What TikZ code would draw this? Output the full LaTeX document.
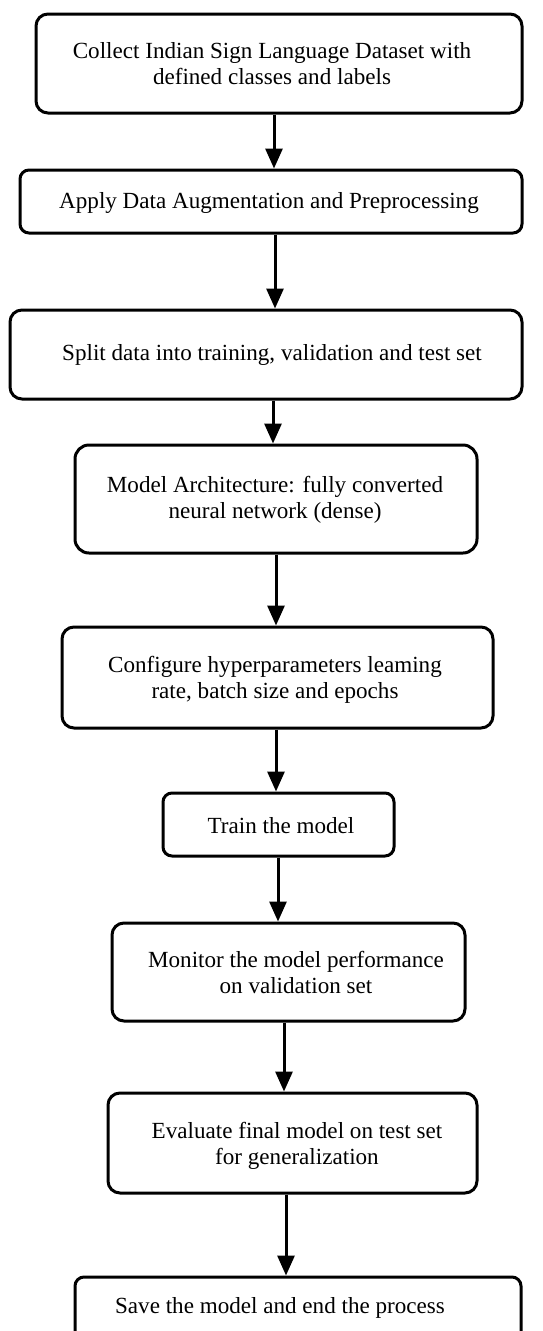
\documentclass[tikz,border=0pt]{standalone}
\usepackage{fontspec}
\setmainfont{Liberation Serif}
\usetikzlibrary{arrows.meta}
\tikzset{
  x=1pt, y=-1pt,
  stepbox/.style={draw=black, line width=3pt, rounded corners=12pt, inner sep=0pt, fill=none},
  steptext/.style={align=center, inner sep=0pt, font=\fontsize{23.1}{26.5}\selectfont},
  arr/.style={line width=3pt, -{Triangle[width=17pt,length=20pt]}}
}
\newcommand{\sline}[1]{\strut #1}
\begin{document}
\begin{tikzpicture}
\useasboundingbox (0,0) rectangle (543,1331);
\clip (0,0) rectangle (543,1331);
\fill[white] (0,0) rectangle (543,1331);

% process boxes
\node[stepbox, minimum width=486pt, minimum height=99pt]  (b1) at (279,63.5) {};
\node[stepbox, minimum width=502pt, minimum height=63pt, rounded corners=9pt]  (b2) at (271,201.5) {};
\node[stepbox, minimum width=512pt, minimum height=89pt]  (b3) at (266,354.5) {};
\node[stepbox, minimum width=402pt, minimum height=108pt, rounded corners=14pt] (b4) at (276,499) {};
\node[stepbox, minimum width=431pt, minimum height=101pt] (b5) at (277.5,677.5) {};
\node[stepbox, minimum width=231pt, minimum height=63pt, rounded corners=9pt]  (b6) at (278.5,824.5) {};
\node[stepbox, minimum width=353pt, minimum height=98pt]  (b7) at (288.5,972) {};
\node[stepbox, minimum width=369pt, minimum height=100pt] (b8) at (292.5,1143) {};
\node[stepbox, minimum width=446pt, minimum height=80pt, rounded corners=9pt]  (b9) at (298,1317) {};

% box labels
\node[steptext] (t1) at (272,66)    {\sline{Collect Indian Sign Language Dataset with}\\\sline{defined classes and labels}};
\node[steptext] (t2) at (269,202.7) {\sline{Apply Data Augmentation and Preprocessing}};
\node[steptext] (t3) at (272,354.7) {\sline{Split data into training, validation and test set}};
\node[steptext] (t4) at (275,500)   {\sline{Model Architecture: fully converted}\\\sline{neural network (dense)}};
\node[steptext] (t5) at (275,680)   {\sline{Configure hyperparameters leaming}\\\sline{rate, batch size and epochs}};
\node[steptext] (t6) at (281,827.7) {\sline{Train the model}};
\node[steptext] (t7) at (296,975)   {\sline{Monitor the model performance}\\\sline{on validation set}};
\node[steptext] (t8) at (297,1146)  {\sline{Evaluate final model on test set}\\\sline{for generalization}};
\node[steptext] (t9) at (280,1307.7){\sline{Save the model and end the process}};

% connectors
\draw[arr] ([xshift=-5pt]b1.south)   -- ([xshift=-5pt]b1.south |- b2.north);
\draw[arr] ([xshift=4pt]b2.south)    -- ([xshift=4pt]b2.south |- b3.north);
\draw[arr] ([xshift=7pt]b3.south)    -- ([xshift=7pt]b3.south |- b4.north);
\draw[arr] (b4.south)                -- (b4.south |- b5.north);
\draw[arr] ([xshift=-1.5pt]b5.south) -- ([xshift=-1.5pt]b5.south |- b6.north);
\draw[arr] ([xshift=-0.5pt]b6.south) -- ([xshift=-0.5pt]b6.south |- b7.north);
\draw[arr] ([xshift=-4.5pt]b7.south) -- ([xshift=-4.5pt]b7.south |- b8.north);
\draw[arr] ([xshift=-6.5pt]b8.south) -- ([xshift=-6.5pt]b8.south |- b9.north);
\end{tikzpicture}
\end{document}
